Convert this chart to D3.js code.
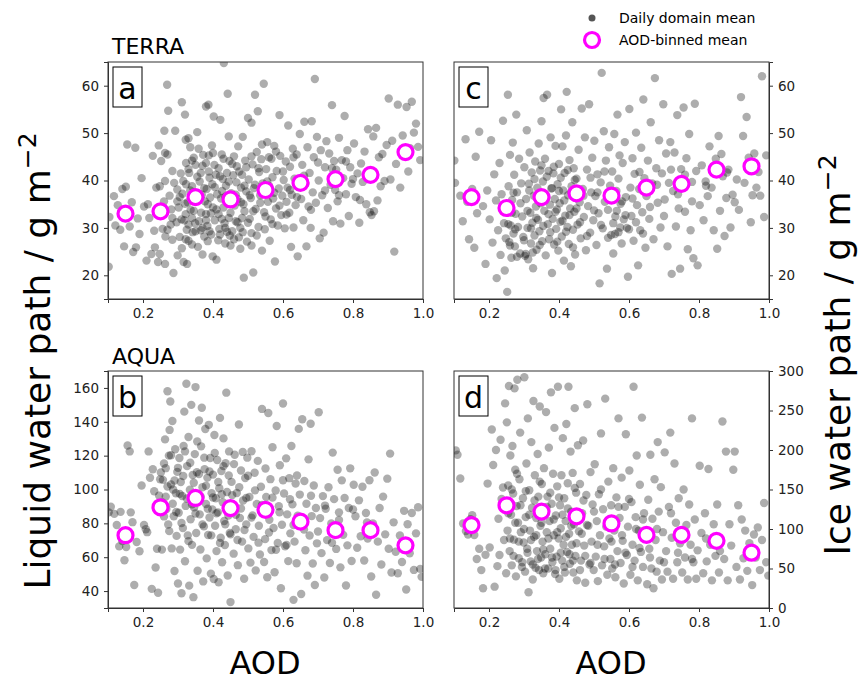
<!DOCTYPE html>
<html>
<head>
<meta charset="utf-8">
<script src="https://cdn.jsdelivr.net/npm/d3@7"></script>
<style>
  body { margin: 0; background: #fff; }
  svg { font-family: "DejaVu Sans", sans-serif; }
  .tick text { font-size: 13.5px; font-family: "DejaVu Sans", sans-serif; fill: #222; }
  .tick line { stroke: #333; }
  .domain { stroke: #333; }
</style>
</head>
<body>
<svg id="chart" width="867" height="683"></svg>
<script>
// AOD bin centres and binned means
var binCenters = [0.15, 0.25, 0.35, 0.45, 0.55, 0.65, 0.75, 0.85, 0.95];
var terraLwpMean = [33, 33.5, 36.5, 36, 38, 39.5, 40.3, 41.2, 46];
var terraIwpMean = [36.5, 34.2, 36.5, 37.3, 36.8, 38.5, 39.3, 42.3, 43];
var aquaLwpMean = [73, 89.5, 95, 89, 88, 81, 76, 76, 67];
var aquaIwpMean = [105, 130, 122, 116, 107, 92.5, 92.5, 85, 70];

var xTicks = [0.2, 0.4, 0.6, 0.8, 1.0];
var terraTicks = [20, 30, 40, 50, 60];
var aquaLwpTicks = [40, 60, 80, 100, 120, 140, 160];
var aquaIwpTicks = [0, 50, 100, 150, 200, 250, 300];

// daily domain means [AOD, value]
var terraLwp = [[0.102,21.8],[0.104,32.3],[0.117,36.7],[0.121,30.5],[0.128,34.8],[0.135,29.6],[0.141,38.2],[0.146,26.1],
[0.151,38.7],[0.155,47.6],[0.162,30.3],[0.168,35.4],[0.172,24.9],[0.178,46.9],[0.18,25.9],[0.185,32],[0.19,28.7],[0.196,40.5],
[0.203,34.5],[0.21,23.1],[0.214,35],[0.218,32.1],[0.224,24.5],[0.228,45.2],[0.232,29.4],[0.234,25.9],[0.238,38.5],[0.243,22.8],[0.243,33.5],[0.245,47.4],[0.248,24.5],[0.248,38.8],
[0.252,44.1],[0.256,29.8],[0.26,35.6],[0.261,50.5],[0.263,45.8],[0.263,39.9],[0.263,22.4],[0.264,28.2],[0.269,60.2],[0.27,45.5],[0.27,29.6],[0.272,54.7],[0.276,36.8],[0.279,30.7],[0.281,33.9],[0.284,42],[0.284,32.1],[0.284,27.5],[0.287,20.5],[0.289,39.5],[0.292,50.5],[0.296,31.2],[0.298,38.1],[0.298,35.6],[0.299,24.2],
[0.302,34.3],[0.305,28.1],[0.308,41.5],[0.311,56.5],[0.311,25.7],[0.313,37.2],[0.316,22.8],[0.318,31.6],[0.32,53.9],[0.322,48.6],[0.322,32.9],[0.322,27.6],[0.323,43.7],[0.323,39.2],[0.326,22.4],[0.328,35.4],[0.33,48.9],[0.33,30.7],[0.33,27.3],[0.332,41.6],[0.335,47],[0.336,33.8],[0.338,36.6],[0.34,38.8],[0.34,32.1],[0.34,26.5],[0.342,29.1],[0.345,44.8],[0.347,37.5],[0.349,31],[0.35,43.3],[0.35,29.3],
[0.352,35.8],[0.355,50.2],[0.357,26],[0.359,46.7],[0.36,31.4],[0.362,39.8],[0.365,41.6],[0.366,33.2],[0.368,37],[0.37,30],[0.37,24.4],[0.372,45.4],[0.375,28.2],[0.377,35.6],[0.38,55.6],[0.38,43.7],[0.38,32.9],[0.382,38.2],[0.384,30.4],[0.385,27.2],[0.387,56],[0.388,45.3],[0.388,41.9],[0.39,29.3],[0.392,36.4],[0.394,33.1],[0.397,47.4],[0.398,39.2],[0.399,24],[0.4,34.3],
[0.402,53.5],[0.404,43.3],[0.405,31.6],[0.408,41.2],[0.41,23.3],[0.412,37.1],[0.416,42.6],[0.416,32.9],[0.418,29.8],[0.42,28.6],[0.421,52.8],[0.423,36.2],[0.425,45.5],[0.426,37.8],[0.428,40.3],[0.43,34.3],[0.431,64.8],[0.433,31],[0.435,30],[0.435,26.7],[0.437,38.9],[0.44,41.6],[0.442,58.3],[0.443,35.2],[0.445,49.3],[0.445,32.1],[0.447,44.1],[0.448,28.4],[0.45,26.3],
[0.452,37.3],[0.455,29.3],[0.458,41.1],[0.46,45.1],[0.462,34.7],[0.465,31.4],[0.467,39.6],[0.468,43],[0.47,36.1],[0.472,47.2],[0.474,28],[0.478,30],[0.478,25.6],[0.48,38.5],[0.483,41.2],[0.483,32.1],[0.485,49.2],[0.487,35],[0.488,19.5],[0.49,33.5],[0.492,44.2],[0.495,37.7],[0.497,27.1],[0.5,53.2],
[0.502,40.2],[0.505,31.9],[0.508,36.3],[0.51,52.2],[0.51,28.9],[0.51,26.3],[0.513,43.4],[0.515,20.6],[0.517,38.4],[0.52,58.1],[0.522,34],[0.525,46],[0.528,54.6],[0.53,30.2],[0.532,41.8],[0.535,36.9],[0.538,44.5],[0.54,25.2],[0.542,39.4],[0.545,60.4],[0.546,33.3],[0.548,29.7],
[0.552,42.4],[0.555,48.1],[0.557,35.5],[0.56,38.9],[0.562,27.3],[0.565,31.8],[0.567,44.6],[0.57,40.7],[0.572,36.2],[0.575,47.3],[0.577,22.9],[0.58,34.1],[0.582,42],[0.585,30.5],[0.588,38.3],[0.59,53.8],[0.592,45.2],[0.595,32.7],[0.598,36.8],
[0.602,40.1],[0.605,29.9],[0.608,44],[0.61,35.5],[0.613,38.5],[0.615,51.6],[0.618,33.2],[0.62,42.9],[0.623,26],[0.625,37],[0.628,46.7],[0.63,30.1],[0.633,40.4],[0.636,34.8],[0.639,45.5],[0.642,24],[0.645,38.6],[0.648,49.8],
[0.652,36.1],[0.655,43.3],[0.658,31.6],[0.661,52.4],[0.664,39.3],[0.667,26.1],[0.67,47],[0.673,34.5],[0.676,41.6],[0.679,30],[0.682,52.5],[0.685,37.5],[0.688,44.9],[0.691,61.4],[0.694,35.3],[0.697,49.2],
[0.702,40],[0.705,27.8],[0.708,46.4],[0.712,36.9],[0.716,29],[0.72,42.8],[0.724,48.3],[0.728,34.2],[0.732,45.7],[0.736,39.1],[0.74,55.9],[0.743,31.4],[0.746,44.1],[0.749,38],
[0.752,42.3],[0.756,35.6],[0.76,49],[0.764,30.9],[0.768,44.3],[0.772,40.5],[0.776,53.6],[0.78,37.1],[0.784,46.4],[0.788,32.5],[0.792,42.8],[0.796,39.3],
[0.803,47.8],[0.808,36.5],[0.813,41.5],[0.818,31.1],[0.823,43.6],[0.828,39.7],[0.833,46.1],[0.838,35],[0.843,50.8],[0.848,33.3],
[0.853,32.7],[0.858,49.3],[0.862,40.8],[0.866,51.1],[0.87,35.8],[0.874,44.9],[0.879,38.8],[0.884,45.6],[0.89,39.9],[0.896,47.5],
[0.902,57.3],[0.907,40.2],[0.912,48.4],[0.918,25],[0.923,43.5],[0.928,56],[0.935,38.5],[0.942,49.5],[0.948,45.2],
[0.953,55.5],[0.958,41.9],[0.963,46.8],[0.968,56.6],[0.974,50.1],[0.98,52],[0.986,47.1],[0.992,44.3],
[0.305,36.5],[0.31,31.8],[0.315,39.9],[0.32,35.1],[0.325,29.6],[0.33,42.4],[0.335,37.9],[0.34,44.2],[0.345,33.6],[0.355,40.8],[0.36,36.9],[0.365,29.5],[0.37,43.1],[0.375,38.4],[0.38,31.6],[0.385,35],[0.39,40.6],[0.395,28.6],[0.4,45.8],[0.405,38.6],[0.41,33.9],[0.415,27.4],[0.42,40.9],[0.425,31.9],[0.43,44.6],[0.435,36.6],[0.44,29.2],[0.445,39.8],[0.45,33.2],[0.455,43.5],[0.46,27.6],[0.465,37],[0.47,31.2],[0.475,41.9],[0.48,35.4],[0.485,29.1],[0.49,38.9],[0.495,42.8],[0.5,31.1],[0.505,36.9],[0.51,45.1],[0.515,33.5],[0.52,39.1],[0.525,28.4],[0.53,42.6],[0.535,35.3],[0.54,47.6],[0.55,32.4],[0.555,39.8],[0.56,44.9],[0.57,30.8],[0.575,37.4],[0.58,46.1],[0.59,34.7],[0.6,41.9],[0.61,32.8],[0.62,38],[0.63,44.9],[0.64,36.5],[0.66,41],[0.68,33.8],[0.7,43.8],[0.72,37.9],[0.74,42.6],[0.76,36.9],[0.78,44],[0.8,40.3],[0.82,35.9],[0.86,33.5]];

var terraIwp = [[0.101,44.2],[0.103,39.5],[0.118,36.8],[0.125,31.4],[0.133,48.7],[0.138,35.5],[0.143,27.6],
[0.152,38.2],[0.158,25.8],[0.162,45],[0.166,33.1],[0.172,50.3],[0.178,59],[0.183,34.6],[0.19,22.4],[0.195,37.9],
[0.202,31.8],[0.206,48.5],[0.21,26.9],[0.215,41.3],[0.22,35.8],[0.222,19.4],[0.226,29.5],[0.23,43.7],[0.233,24.3],[0.236,37.1],[0.24,52.6],[0.243,31],[0.245,21],[0.248,27.8],
[0.25,33.7],[0.252,16.5],[0.254,58.1],[0.256,38.8],[0.258,27],[0.26,45.4],[0.262,30.5],[0.264,23.7],[0.266,35.9],[0.268,48],[0.27,28.8],[0.272,41.2],[0.274,26.1],[0.276,33],[0.278,53.9],[0.28,37.5],[0.283,30.2],[0.286,44.6],[0.289,24.6],[0.292,39.4],[0.295,32.4],[0.298,28.1],
[0.301,42.8],[0.303,24.1],[0.306,36.1],[0.308,50.6],[0.31,30],[0.312,23.4],[0.314,39.3],[0.316,45.9],[0.318,33.2],[0.32,26.7],[0.322,41.7],[0.324,31.1],[0.326,21.5],[0.328,36.8],[0.33,28.4],[0.332,44],[0.334,34.5],[0.336,25.4],[0.338,38.5],[0.34,31.7],[0.342,47.8],[0.344,29.3],[0.346,42.1],[0.348,35.2],
[0.35,52.5],[0.352,27.2],[0.354,39.8],[0.356,57.4],[0.358,33.6],[0.36,44.6],[0.362,24.2],[0.364,36.4],[0.366,58.1],[0.368,30.8],[0.37,42],[0.372,27.6],[0.374,34.9],[0.376,49.1],[0.378,38.3],[0.38,20.5],[0.382,31.9],[0.384,41.5],[0.386,26.5],[0.388,36.1],[0.39,47.3],[0.392,29.8],[0.394,33.9],[0.396,39.2],[0.398,25.2],
[0.4,43.5],[0.402,35.2],[0.404,31.3],[0.406,55],[0.408,28.2],[0.41,47.2],[0.412,37.9],[0.414,23.1],[0.416,41.6],[0.418,32.6],[0.42,49.5],[0.422,58.7],[0.424,30.2],[0.426,36.9],[0.428,26.6],[0.43,44.3],[0.432,34.1],[0.434,21.9],[0.436,38.8],[0.438,52.3],[0.44,29.6],[0.442,42.6],[0.444,33.4],[0.446,24.4],[0.448,36.3],
[0.45,40.4],[0.453,30.7],[0.456,46.5],[0.459,35.4],[0.462,27.8],[0.465,55.2],[0.468,38.2],[0.471,32.3],[0.474,49.1],[0.477,25.3],[0.48,42.3],[0.483,34.6],[0.486,56.1],[0.489,29],[0.492,37.5],[0.495,44.8],[0.498,31.6],
[0.501,48.4],[0.504,36.7],[0.507,26.4],[0.51,41.3],[0.513,33.1],[0.516,18.3],[0.519,39.6],[0.522,62.7],[0.525,29.9],[0.528,50.4],[0.531,35.5],[0.534,44.2],[0.537,21.4],[0.54,33.8],[0.543,47],[0.546,38.9],[0.549,28.5],
[0.552,41.9],[0.555,24.6],[0.558,49.8],[0.561,32.4],[0.564,37.8],[0.567,53.9],[0.57,29.1],[0.573,45.3],[0.576,35.1],[0.579,26.7],[0.582,43.7],[0.585,31.8],[0.588,48.1],[0.591,36.5],[0.594,30],[0.597,19.7],
[0.601,55.1],[0.604,38.5],[0.607,32.5],[0.61,44.7],[0.613,27.3],[0.616,41.4],[0.62,50.1],[0.623,34.8],[0.626,22.1],[0.629,38.2],[0.632,29.5],[0.635,46.9],[0.638,33.3],[0.641,57.1],[0.644,40.5],[0.647,25.8],
[0.65,36.7],[0.654,44.2],[0.658,31.9],[0.662,52.3],[0.666,39.4],[0.67,27.6],[0.674,61.6],[0.678,42.6],[0.682,35.3],[0.686,48.5],[0.69,30.1],[0.694,41.5],[0.698,56.1],
[0.702,36],[0.706,45.7],[0.71,26.1],[0.714,39.5],[0.718,48.1],[0.722,20.3],[0.726,37.8],[0.73,45.9],[0.734,30.3],[0.738,53.8],[0.742,34.1],[0.746,21.4],[0.749,42.4],
[0.752,38.4],[0.756,55.4],[0.76,33.4],[0.764,44.7],[0.768,25.5],[0.772,49.8],[0.776,29.5],[0.78,39.7],[0.784,23.6],[0.788,56.2],[0.792,42],[0.796,22.1],
[0.802,34.8],[0.808,43.2],[0.813,31.6],[0.819,39.8],[0.825,36.7],[0.83,47.2],[0.836,38.5],[0.842,29.5],[0.848,44.6],
[0.852,25.6],[0.856,49.4],[0.86,33.6],[0.864,45.6],[0.868,40.9],[0.873,28.3],[0.878,36.3],[0.884,42.3],[0.89,30.1],[0.896,37],
[0.902,35.4],[0.908,40.2],[0.914,33.8],[0.92,57.6],[0.926,49.4],[0.93,39.5],[0.936,53.4],[0.942,44.8],[0.948,31.2],
[0.953,36.9],[0.958,45.7],[0.964,38.5],[0.97,41.8],[0.975,36.8],[0.98,62],[0.986,32.3],[0.992,45.3],
[0.255,30.8],[0.26,26.3],[0.265,33.2],[0.27,37.4],[0.275,29.7],[0.28,23.9],[0.29,35.2],[0.3,27.4],[0.305,24.5],[0.31,33.6],[0.315,37.9],[0.32,29.9],[0.325,24.8],[0.33,40.3],[0.335,32.1],[0.34,36.9],[0.345,26.4],[0.35,43.2],[0.355,30.4],[0.36,35.9],[0.365,40.8],[0.37,32.9],[0.375,29.1],[0.38,38.4],[0.385,42.9],[0.39,33.4],[0.395,27.1],[0.4,37.8],[0.405,40.6],[0.41,31.5],[0.415,35.8],[0.42,29.2],[0.425,42.2],[0.43,32.7],[0.435,37.6],[0.44,25.9],[0.445,40.1],[0.45,34.1],[0.46,31.2],[0.47,36.8],[0.48,28.3],[0.49,40.6],[0.5,33.7],[0.51,37.5],[0.52,30.6],[0.53,41.9],[0.54,27.9],[0.55,36.1],[0.555,31],[0.56,28.7],[0.565,33.6],[0.57,40.4],[0.575,30.1],[0.58,35.6],[0.59,32.7],[0.6,29.7],[0.61,36.2],[0.62,31.2],[0.63,41.8],[0.64,28.8],[0.66,34.4],[0.68,39.1],[0.7,32.5],[0.72,42.3],[0.74,37.1],[0.76,41.2],[0.78,35.6],[0.82,38.9],[0.88,41.7]];

var aquaLwp = [[0.102,86.5],[0.108,89.8],[0.118,85.6],[0.125,79],[0.132,66.4],[0.136,86.8],[0.141,69.5],[0.147,58.2],
[0.152,66],[0.156,126],[0.162,122.5],[0.165,86.5],[0.17,80.7],[0.175,43.6],[0.182,69],[0.19,63.5],[0.196,102.4],
[0.203,79],[0.208,76.5],[0.212,74.8],[0.216,122.5],[0.22,106.9],[0.225,41.3],[0.228,112],[0.232,99],[0.236,53.9],[0.24,65],[0.243,39],[0.246,96.4],[0.249,106],
[0.251,110],[0.254,64.5],[0.257,105.7],[0.26,115.4],[0.263,129.6],[0.265,95.8],[0.267,88.5],[0.27,158],[0.272,79.3],[0.274,120],[0.276,135.2],[0.278,152],[0.28,103],[0.282,65.2],[0.284,140.5],[0.286,100],[0.288,84.2],[0.29,51.9],[0.292,123.8],[0.294,97.8],[0.296,72.6],[0.298,110.4],
[0.3,44.5],[0.302,86.3],[0.304,118.6],[0.306,64.5],[0.308,104.4],[0.31,38.7],[0.312,96.2],[0.314,77.2],[0.316,125.7],[0.318,146],[0.32,57.6],[0.322,90.3],[0.324,162.5],[0.326,113.8],[0.328,72.9],[0.33,131],[0.332,43.2],[0.334,99.9],[0.336,82.4],[0.338,150],[0.34,67.3],[0.342,108.6],[0.344,36.4],[0.346,89.5],[0.348,120.9],
[0.35,160.5],[0.352,74.3],[0.354,110.2],[0.356,52],[0.358,95.3],[0.36,140.8],[0.362,85.3],[0.364,64.6],[0.366,125.5],[0.368,148.3],[0.37,101.3],[0.372,45.7],[0.374,78.2],[0.376,112],[0.378,135.7],[0.38,91.4],[0.382,59.3],[0.384,107],[0.386,73.1],[0.388,138.2],[0.39,83.5],[0.392,118.6],[0.394,50.3],[0.396,97.8],[0.398,88.2],
[0.4,108.8],[0.402,47.1],[0.404,132.2],[0.406,78.6],[0.408,94.8],[0.41,63.6],[0.412,117.4],[0.414,86.5],[0.416,45.2],[0.418,100.7],[0.42,142.3],[0.422,71.5],[0.424,110.9],[0.426,57],[0.428,92.5],[0.43,130.2],[0.432,81.4],[0.434,67.2],[0.436,115.5],[0.438,157.2],[0.44,98.5],[0.442,49.2],[0.444,84.6],[0.446,122.5],[0.448,74.3],
[0.45,33.5],[0.453,104.5],[0.456,89.2],[0.459,62.1],[0.462,120.5],[0.465,76.5],[0.468,97.9],[0.471,55.3],[0.474,138.4],[0.477,83.2],[0.48,111.2],[0.483,69.2],[0.486,93.5],[0.489,47.3],[0.492,106.8],[0.495,79.4],[0.498,118.8],
[0.501,65.2],[0.504,95.6],[0.507,56.8],[0.51,122.6],[0.513,84.7],[0.516,72],[0.519,109.9],[0.522,52.2],[0.525,91.4],[0.528,116.9],[0.531,78.6],[0.534,61.6],[0.537,101.6],[0.54,147.6],[0.543,87.4],[0.546,57.2],[0.549,70.7],
[0.552,95.6],[0.555,48.2],[0.558,145.2],[0.561,82.1],[0.564,106.1],[0.567,64.2],[0.57,125],[0.573,77.3],[0.576,51.1],[0.579,99.4],[0.582,137.5],[0.585,68.4],[0.588,90.1],[0.591,114.3],[0.594,41.7],[0.597,79.2],
[0.6,150.8],[0.603,97.6],[0.606,66.5],[0.609,118.4],[0.612,85.3],[0.615,57.7],[0.618,106.7],[0.621,74.1],[0.624,125.7],[0.627,91.2],[0.63,34.8],[0.633,69.2],[0.636,103.5],[0.639,56.4],[0.642,84.5],[0.645,135.8],[0.648,97],
[0.652,38.3],[0.655,141.5],[0.658,80.1],[0.661,105],[0.664,64.1],[0.667,91.6],[0.67,49.1],[0.673,117.8],[0.676,72.8],[0.679,138.8],[0.682,84.3],[0.685,56.3],[0.688,102.4],[0.691,43.6],[0.694,89.1],[0.697,68.2],
[0.702,145.6],[0.706,83.1],[0.71,62.4],[0.714,96.1],[0.718,48],[0.722,88.6],[0.726,70.1],[0.73,101.3],[0.734,56.6],[0.738,79.9],[0.742,121.8],[0.746,94.3],
[0.752,64.9],[0.756,111.7],[0.76,86.5],[0.764,54],[0.768,105.4],[0.772,73.2],[0.776,95],[0.78,43.3],[0.784,67],[0.788,89.1],[0.792,112.5],[0.796,57.8],
[0.802,102.8],[0.807,84.2],[0.812,65.6],[0.817,93.6],[0.822,72.4],[0.827,101.6],[0.832,58.1],[0.837,86.1],[0.842,71],[0.847,105.5],
[0.852,48.6],[0.857,79.9],[0.862,110],[0.866,37.8],[0.871,69.2],[0.876,89.1],[0.881,55.7],[0.886,95.8],[0.892,73.5],[0.898,106.4],
[0.902,65],[0.906,121.2],[0.91,51],[0.916,80.6],[0.922,63.2],[0.928,50.5],[0.934,72.8],[0.94,57.2],[0.946,87.4],
[0.952,40.9],[0.956,79.5],[0.962,62.3],[0.968,86.1],[0.974,52.5],[0.98,74.1],[0.986,89.5],[0.992,53.1],[0.996,48.4],
[0.255,92.4],[0.26,84.1],[0.265,112.6],[0.27,101.8],[0.275,75.4],[0.28,120.2],[0.285,91.6],[0.29,105.3],[0.295,86.7],[0.3,112.8],[0.305,97.4],[0.31,80.2],[0.315,108],[0.32,122.5],[0.325,94.7],[0.33,69.5],[0.335,115.8],[0.34,91.2],[0.345,104],[0.35,85.8],[0.355,128.4],[0.36,109.2],[0.365,95.8],[0.37,79.4],[0.375,118.8],[0.38,102.2],[0.385,88.6],[0.39,110.6],[0.395,72.9],[0.4,95.3],[0.405,121.6],[0.41,85.9],[0.415,104.4],[0.42,68.4],[0.425,97.2],[0.43,113.8],[0.435,79.5],[0.44,90.6],[0.445,108.3],[0.45,73.5],[0.455,96.7],[0.46,115],[0.465,85.1],[0.47,70.2],[0.475,101.3],[0.48,88.8],[0.485,122.2],[0.49,76.1],[0.495,95],[0.5,108.1],[0.51,83.4],[0.52,99.5],[0.53,68.6],[0.54,90.8],[0.55,112.4],[0.56,74.6],[0.57,95.2],[0.58,64.4],[0.59,86.6],[0.6,105.5],[0.61,67.2],[0.62,94.2],[0.63,79],[0.64,108.3],[0.66,76.3],[0.68,96.3],[0.7,75.2],[0.72,90.5],[0.74,68.5],[0.76,82],[0.8,88.2],[0.84,80.5]];

var aquaIwp = [[0.105,199.5],[0.11,194],[0.118,164],[0.126,107],[0.134,97.5],[0.14,93],[0.147,112.5],
[0.152,117.5],[0.158,92.3],[0.165,62],[0.172,75],[0.178,48],[0.183,25],[0.19,67.3],[0.196,157.5],
[0.202,76.5],[0.208,226],[0.212,181],[0.216,27],[0.22,200],[0.224,53],[0.227,113],[0.23,67],[0.233,213],[0.236,138],[0.24,152.5],[0.243,86],[0.246,259],[0.249,44],
[0.251,235],[0.253,98],[0.255,155],[0.257,281],[0.259,72],[0.261,193],[0.263,118],[0.265,54],[0.267,205],[0.269,145],[0.271,86.5],[0.273,278],[0.275,175],[0.277,40],[0.279,129],[0.281,289],[0.283,108],[0.285,63],[0.287,163],[0.289,222],[0.291,96],[0.294,52],[0.297,139],[0.299,83],
[0.301,292],[0.303,46],[0.305,115],[0.307,183],[0.309,75],[0.311,240],[0.313,20],[0.315,149],[0.317,98],[0.319,59],[0.321,210],[0.323,127],[0.325,36],[0.327,262],[0.329,90],[0.331,168],[0.333,51],[0.335,114],[0.337,72],[0.339,195],[0.341,141],[0.343,48],[0.345,255],[0.347,104],[0.349,64],
[0.351,157],[0.353,84],[0.355,44],[0.357,177],[0.359,121],[0.361,68],[0.363,248],[0.365,96],[0.367,141],[0.369,50],[0.371,203],[0.373,110],[0.375,75],[0.377,273],[0.379,132],[0.381,58],[0.383,170],[0.385,92],[0.387,228],[0.389,43],[0.391,117],[0.393,65],[0.395,154],[0.397,280],[0.399,88],
[0.401,37],[0.403,130],[0.405,101],[0.407,168],[0.409,60],[0.411,215],[0.413,80],[0.415,139],[0.417,45],[0.419,110],[0.421,233],[0.423,71],[0.425,158],[0.427,280],[0.429,94],[0.431,56],[0.433,198],[0.435,122],[0.437,80],[0.439,171],[0.441,45],[0.443,106],[0.445,253],[0.447,66],[0.449,146],
[0.451,35],[0.454,206],[0.457,97],[0.46,157],[0.463,60],[0.466,120],[0.469,212],[0.472,79],[0.475,32],[0.478,143],[0.481,258],[0.484,104],[0.487,55],[0.49,172],[0.493,84],[0.496,131],[0.499,48],
[0.502,182],[0.505,65],[0.508,110],[0.511,34],[0.514,144],[0.517,92],[0.52,221],[0.523,54],[0.526,125],[0.529,78],[0.532,265],[0.535,103],[0.538,42],[0.541,160],[0.544,88],[0.547,62],[0.549,130],
[0.552,50],[0.555,177],[0.558,98],[0.561,39],[0.564,140],[0.567,72],[0.57,240],[0.573,114],[0.576,57],[0.579,165],[0.582,85],[0.585,31],[0.588,128],[0.591,220],[0.594,67],[0.597,103],
[0.601,174],[0.604,42],[0.607,134],[0.61,80],[0.613,280],[0.616,60],[0.619,115],[0.622,193],[0.625,35],[0.628,98],[0.631,156],[0.634,71],[0.637,241],[0.64,52],[0.643,120],[0.646,88],
[0.652,30],[0.655,137],[0.658,75],[0.661,194],[0.664,50],[0.667,113],[0.67,25],[0.673,163],[0.676,86],[0.679,46],[0.682,210],[0.685,122],[0.688,60],[0.691,153],[0.694,36],[0.697,96],
[0.702,197],[0.706,72],[0.71,46],[0.714,128],[0.718,222],[0.722,89],[0.726,37],[0.73,183],[0.734,108],[0.738,58],[0.742,139],[0.746,82],
[0.752,45],[0.756,150],[0.76,64],[0.764,105],[0.768,36],[0.772,131],[0.776,80],[0.78,240],[0.784,58],[0.788,112],[0.792,37],[0.796,73],
[0.802,180],[0.807,95],[0.812,44],[0.817,120],[0.822,59],[0.827,176],[0.832,80],[0.837,35],[0.842,106],[0.847,66],
[0.852,131],[0.857,45],[0.862,85],[0.867,236],[0.872,62],[0.877,198],[0.882,35],[0.887,106],[0.892,79],[0.898,175],
[0.902,198],[0.907,52],[0.912,130],[0.917,36],[0.922,112],[0.927,63],[0.932,98],[0.938,47],[0.944,82],
[0.952,29],[0.957,93],[0.962,64],[0.968,102],[0.974,48],[0.98,86],[0.986,133],[0.992,58],[0.998,41],
[0.255,120],[0.26,88],[0.265,150],[0.27,66],[0.275,108],[0.28,170],[0.285,84],[0.29,130],[0.295,58],[0.3,100],[0.305,148],[0.31,70],[0.315,118],[0.32,86],[0.325,55],[0.33,136],[0.335,92],[0.34,62],[0.345,160],[0.35,108],[0.355,74],[0.36,50],[0.365,128],[0.37,88],[0.375,146],[0.38,64],[0.385,112],[0.39,48],[0.395,96],[0.4,140],[0.405,70],[0.41,118],[0.415,52],[0.42,90],[0.425,126],[0.43,68],[0.435,104],[0.44,60],[0.445,152],[0.45,82],[0.455,115],[0.46,48],[0.465,94],[0.47,136],[0.475,66],[0.48,105],[0.49,57],[0.5,122],[0.51,80],[0.52,150],[0.53,62],[0.54,110],[0.55,84],[0.56,55],[0.57,128],[0.58,92],[0.59,70],[0.6,138],[0.61,52],[0.62,100],[0.63,76],[0.64,112],[0.66,64],[0.68,100],[0.7,58],[0.72,120],[0.74,70],[0.76,96],[0.78,62],[0.82,88],[0.86,72]];

var svg = d3.select('#chart');
var pw = 315, ph = 237;

var panels = [
  {id:'a', x:108, y:62, pts:terraLwp, mean:terraLwpMean, dom:[15,65], ticks:terraTicks, side:'left'},
  {id:'c', x:454, y:62, pts:terraIwp, mean:terraIwpMean, dom:[15,65], ticks:terraTicks, side:'right'},
  {id:'b', x:108, y:371, pts:aquaLwp, mean:aquaLwpMean, dom:[30,170], ticks:aquaLwpTicks, side:'left'},
  {id:'d', x:454, y:371, pts:aquaIwp, mean:aquaIwpMean, dom:[0,300], ticks:aquaIwpTicks, side:'right'}
];

panels.forEach(function(p){
  var g = svg.append('g').attr('transform', 'translate(' + p.x + ',' + p.y + ')');
  var x = d3.scaleLinear().domain([0.1, 1.0]).range([0, pw]);
  var y = d3.scaleLinear().domain(p.dom).range([ph, 0]);

  g.append('clipPath').attr('id', 'clip' + p.id)
    .append('rect').attr('width', pw).attr('height', ph);

  g.append('g').attr('clip-path', 'url(#clip' + p.id + ')')
    .selectAll('circle').data(p.pts).enter().append('circle')
    .attr('cx', function(d){ return x(d[0]); })
    .attr('cy', function(d){ return y(d[1]); })
    .attr('r', 4.2)
    .attr('fill', '#000')
    .attr('fill-opacity', 0.32);

  g.selectAll('.bin').data(binCenters).enter().append('circle')
    .attr('class', 'bin')
    .attr('cx', function(d){ return x(d); })
    .attr('cy', function(d, i){ return y(p.mean[i]); })
    .attr('r', 7.5)
    .attr('fill', '#fff')
    .attr('stroke', '#ff00ff')
    .attr('stroke-width', 3.2);

  g.append('g').attr('transform', 'translate(0,' + ph + ')')
    .call(d3.axisBottom(x).tickValues(xTicks).tickFormat(d3.format('.1f')).tickSizeOuter(0).tickSize(4).tickPadding(5));

  if (p.side == 'left') {
    g.append('g').call(d3.axisLeft(y).tickValues(p.ticks).tickSizeOuter(0).tickSize(4).tickPadding(5));
  } else {
    g.append('g').attr('transform', 'translate(' + pw + ',0)')
      .call(d3.axisRight(y).tickValues(p.ticks).tickSizeOuter(0).tickSize(4).tickPadding(5));
  }

  g.append('rect').attr('width', pw).attr('height', ph)
    .attr('fill', 'none').attr('stroke', '#333').attr('stroke-width', 1);

  // panel letter box
  g.append('rect').attr('x', 5).attr('y', 5).attr('width', 29).attr('height', 40)
    .attr('fill', '#fff').attr('stroke', '#000').attr('stroke-width', 1);
  g.append('text').attr('x', 19.5).attr('y', 37).attr('text-anchor', 'middle')
    .attr('font-size', 30).text(p.id);
});

svg.append('text').attr('x', 112).attr('y', 54).attr('font-size', 22).text('TERRA');
svg.append('text').attr('x', 112).attr('y', 364).attr('font-size', 22).text('AQUA');

svg.append('text').attr('x', 265).attr('y', 674).attr('text-anchor', 'middle').attr('font-size', 32).text('AOD');
svg.append('text').attr('x', 611).attr('y', 674).attr('text-anchor', 'middle').attr('font-size', 32).text('AOD');

var ylab = svg.append('text').attr('transform', 'translate(50,361) rotate(-90)')
  .attr('text-anchor', 'middle').attr('font-size', 36);
ylab.append('tspan').text('Liquid water path / g m');
ylab.append('tspan').attr('dy', -14).attr('font-size', 25).text('\u22122');

var ylab2 = svg.append('text').attr('transform', 'translate(850,355) rotate(-90)')
  .attr('text-anchor', 'middle').attr('font-size', 36);
ylab2.append('tspan').text('Ice water path / g m');
ylab2.append('tspan').attr('dy', -14).attr('font-size', 25).text('\u22122');

// legend
var lg = svg.append('g');
lg.append('circle').attr('cx', 592).attr('cy', 18).attr('r', 3.5).attr('fill', '#555');
lg.append('text').attr('x', 619).attr('y', 23).attr('font-size', 14).text('Daily domain mean');
lg.append('circle').attr('cx', 592).attr('cy', 40).attr('r', 7.5).attr('fill', '#fff')
  .attr('stroke', '#ff00ff').attr('stroke-width', 3.2);
lg.append('text').attr('x', 619).attr('y', 45).attr('font-size', 14).text('AOD-binned mean');
</script>
</body>
</html>
